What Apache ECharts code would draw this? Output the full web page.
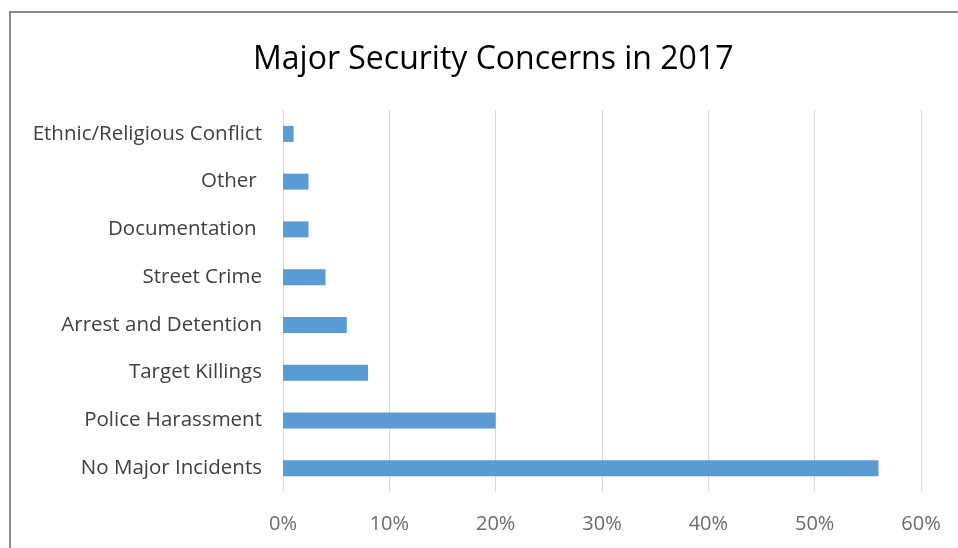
<!DOCTYPE html>
<html>
<head>
<meta charset="utf-8">
<script src="https://cdn.jsdelivr.net/npm/echarts@6/dist/echarts.min.js"></script>
<style>html,body{margin:0;padding:0;background:#fff;}#c{width:958px;height:548px;}</style>
</head>
<body>
<div id="c"></div>
<script>
var categories = ["Ethnic/Religious Conflict", "Other ", "Documentation ", "Street Crime", "Arrest and Detention", "Target Killings", "Police Harassment", "No Major Incidents"];
var values = [1, 2.4, 2.4, 4, 6, 8, 20, 56];
var xTicks = [0, 10, 20, 30, 40, 50, 60];

var chart = echarts.init(document.getElementById('c'));
chart.setOption({
  animation: false,
  backgroundColor: '#fff',
  title: {
    text: 'Major Security Concerns in 2017',
    left: 248,
    top: 39,
    textStyle: { fontFamily: 'Open Sans', fontSize: 32, fontWeight: 'normal', color: '#000' }
  },
  graphic: [{
    type: 'polyline',
    shape: { points: [[10, 560], [10, 12], [970, 12]] },
    style: { stroke: '#8a8a8a', lineWidth: 2, fill: null },
    silent: true
  }],
  grid: { left: 283, right: 37, top: 110, bottom: 56, containLabel: false },
  xAxis: {
    type: 'value',
    min: xTicks[0],
    max: xTicks[xTicks.length - 1],
    interval: 10,
    axisLine: { show: false },
    axisTick: { show: false },
    splitLine: { show: true, lineStyle: { color: '#d9d9d9', width: 1 } },
    axisLabel: { formatter: '{value}%', fontFamily: 'Open Sans', fontSize: 20, color: '#6b6b6b', margin: 22 }
  },
  yAxis: {
    type: 'category',
    data: categories,
    inverse: true,
    axisLine: { show: false },
    axisTick: { show: false },
    axisLabel: { fontFamily: 'Open Sans', fontSize: 20.5, color: '#404040', margin: 21 }
  },
  series: [{
    type: 'bar',
    data: values,
    barWidth: 16,
    itemStyle: { color: '#5b9bd5' }
  }]
});
</script>
</body>
</html>
